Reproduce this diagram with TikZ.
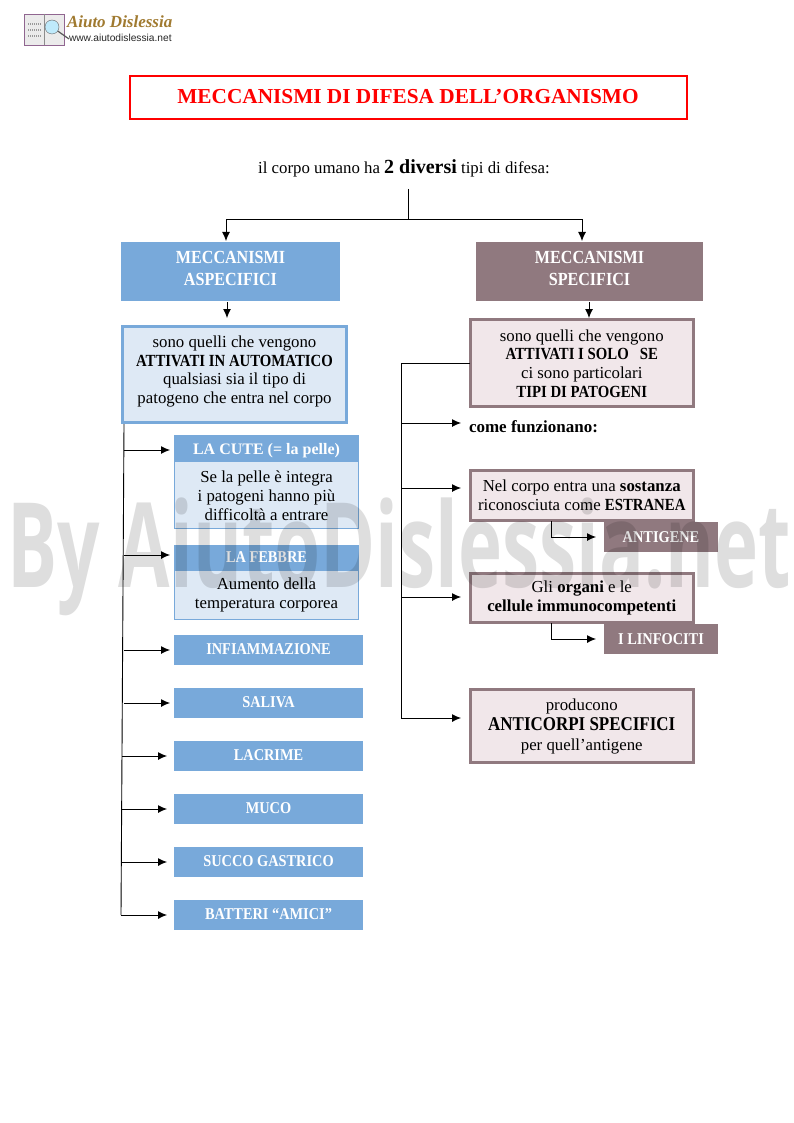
\documentclass[tikz,border=0pt]{standalone}
\usepackage{fontspec}
\setmainfont{Liberation Serif}
\newfontfamily\wmfont{Open Sans}
\newfontfamily\logofont{Liberation Sans}
\newfontfamily\capfam{Liberation Serif}[FakeStretch=.87]
\usetikzlibrary{arrows.meta}
\definecolor{bluebox}{HTML}{78A9DA}
\definecolor{lightblue}{HTML}{DEE9F5}
\definecolor{mauve}{HTML}{90797F}
\definecolor{lightmauve}{HTML}{F1E7EA}
\definecolor{titlered}{HTML}{FF0000}
\definecolor{logogold}{HTML}{A07A30}
\newcommand{\cb}[1]{{\capfam\bfseries\fontsize{17}{18.7}\selectfont #1}}
\tikzset{x=1pt,y=-1pt,
 every node/.style={font=\fontsize{16.8}{18.7}\selectfont,align=center,inner sep=0pt,outer sep=0pt},
 bluehead/.style={fill=bluebox,text=white,font=\capfam\bfseries\fontsize{16.5}{20}\selectfont},
 mauvehead/.style={fill=mauve,text=white,font=\capfam\bfseries\fontsize{16.5}{20}\selectfont},
 bigblue/.style={bluehead,font=\capfam\bfseries\fontsize{18.5}{22}\selectfont},
 bigmauve/.style={mauvehead,font=\capfam\bfseries\fontsize{18.5}{22}\selectfont},
 blueframe/.style={draw=bluebox,fill=lightblue,line width=3pt},
 thinblue/.style={draw=bluebox,fill=lightblue,line width=1pt},
 mauveframe/.style={draw=mauve,fill=lightmauve,line width=3pt},
 conn/.style={draw=black,line width=.9pt},
 arr/.style={conn,-{Latex[length=9pt,width=8pt]}},
}
% [text shift]{style}{x0}{y0}{x1}{y1}{name}{text}
\newcommand{\boxat}[8][0]{%
 \node[#2,minimum width=#5-#3,minimum height=#6-#4] (#7) at ({(#3+#5)/2},{(#4+#6)/2}) {};
 \node[#2,draw=none,fill=none] (#7t) at ({(#3+#5)/2},{(#4+#6)/2+#1}) {#8};}
\begin{document}
\begin{tikzpicture}
\useasboundingbox (0,0) rectangle (793,1123);
% logo
\fill[black!8,draw=black!45!violet!60] (24,14) rectangle (64,45);
\draw[black!45] (44,14) -- (44,45);
\draw[black!40,line width=1.2pt,dash pattern=on 1pt off 1pt] (28,24) -- (41,24) (28,30) -- (41,30) (28,36) -- (41,36);
\node[circle,draw=black!60,fill=cyan!25,minimum size=14pt] (lens) at (52,27) {};
\coordinate (lensend) at (69,39);
\draw[black!65,line width=1.2pt] (lens) -- (lensend);
\node[anchor=west,text=logogold,font=\fontsize{17}{17}\selectfont\bfseries\itshape] (logot) at (67,22) {Aiuto Dislessia};
\node[anchor=west,text=black!85,font=\logofont\fontsize{10.2}{11}\selectfont] (logou) at (69,38) {www.aiutodislessia.net};
% title
\node[draw=titlered,line width=2pt,minimum width=557pt,minimum height=43pt] (title) at (408,98) {};
\node[text=titlered,font=\fontsize{21.3}{26}\selectfont\bfseries] (titlet) at (408,97) {MECCANISMI DI DIFESA DELL’ORGANISMO};
\node (intro) at (404,168) {il corpo umano ha {\fontsize{20}{21}\selectfont\bfseries 2 diversi} tipi di difesa:};
% heads
\boxat[-3.5]{bigblue}{121}{242}{340}{301}{asp}{MECCANISMI\\ASPECIFICI}
\boxat[-3.5]{bigmauve}{476}{242}{703}{301}{spe}{MECCANISMI\\SPECIFICI}
\boxat[-3]{blueframe}{122.5}{326.5}{346.5}{422.5}{aspd}{sono quelli che vengono\\\cb{ATTIVATI IN AUTOMATICO}\\qualsiasi sia il tipo di\\patogeno che entra nel corpo}
\boxat[.5]{mauveframe}{470}{319.5}{693.5}{406.5}{sped}{sono quelli che vengono\\\cb{ATTIVATI I SOLO\ \ \ SE}\\ci sono particolari\\\cb{TIPI DI PATOGENI}}
% top tree
\coordinate (ti) at (408,189);
\coordinate (tj) at (408,219);
\coordinate (tl) at (226,219);
\coordinate (tr) at (582,219);
\draw[conn] (ti) -- (tj);
\draw[arr] (tj) -- (tl) -- (226,241);
\draw[arr] (tj) -- (tr) -- (582,241);
\draw[arr] (227,302) -- (227,318);
\draw[arr] (589,302) -- (589,318);
% left
\boxat[1]{thinblue}{174.5}{461}{358.5}{528.5}{cuted}{Se la pelle è integra\\i patogeni hanno più\\difficoltà a entrare}
\boxat[2.5]{bluehead,font=\bfseries\fontsize{16}{20}\selectfont}{174}{435}{359}{461}{cute}{LA CUTE (= la pelle)}
\boxat{thinblue}{174.5}{570}{358.5}{619.5}{febd}{Aumento della\\temperatura corporea}
\boxat{bluehead}{174}{545}{359}{570}{feb}{LA FEBBRE}
\boxat[-.5]{bluehead}{174}{635}{363}{665}{inf}{INFIAMMAZIONE}
\boxat[-.5]{bluehead}{174}{688}{363}{718}{sal}{SALIVA}
\boxat[-.5]{bluehead}{174}{741}{363}{771}{lac}{LACRIME}
\boxat[-.5]{bluehead}{174}{794}{363}{824}{muc}{MUCO}
\boxat[-.5]{bluehead}{174}{847}{363}{877}{suc}{SUCCO GASTRICO}
\boxat[-.5]{bluehead}{174}{900}{363}{930}{bat}{BATTERI “AMICI”}
\coordinate (lt) at (124,424);
\coordinate (lb) at (121,915);
\draw[conn] (lt) -- (lb);
\draw[arr] (124,450) -- (170,450);
\draw[arr] (124,555) -- (170,555);
\draw[arr] (124,650) -- (170,650);
\draw[arr] (124,703) -- (170,703);
\draw[arr] (122,756) -- (167,756);
\draw[arr] (122,809) -- (167,809);
\draw[arr] (122,862) -- (167,862);
\draw[arr] (lb) -- (167,915);
% right
\boxat{mauvehead}{604}{522}{718}{552}{ant}{ANTIGENE}
\boxat{mauvehead}{604}{624}{718}{654}{lin}{I LINFOCITI}
\boxat{mauveframe}{470}{470}{693.5}{520.5}{nel}{Nel corpo entra una \textbf{sostanza}\\riconosciuta come \cb{ESTRANEA}}
\boxat{mauveframe}{470}{573}{693.5}{622.5}{gli}{Gli \textbf{organi} e le\\\textbf{cellule immunocompetenti}}
\boxat[.5]{mauveframe}{470}{689.5}{693.5}{762.5}{pro}{producono\\[1pt]{\capfam\bfseries\fontsize{19.5}{21}\selectfont ANTICORPI SPECIFICI}\\[2pt]per quell’antigene}
\node[anchor=west,font=\fontsize{17}{21}\selectfont\bfseries] (come) at (469,427) {come funzionano:};
\coordinate (rt) at (401,363);
\coordinate (rb) at (401,718);
\draw[conn] (sped.west |- rt) -- (rt) -- (rb);
\draw[arr] (401,423) -- (461,423);
\draw[arr] (401,488) -- (461,488);
\draw[arr] (401,597) -- (461,597);
\draw[arr] (rb) -- (461,718);
\draw[arr] (551,521) -- (551,537) -- (596,537);
\draw[arr] (551,623) -- (551,639) -- (596,639);
% watermark
\node[anchor=west,text=black,opacity=.13,xscale=.632,font=\wmfont\bfseries\fontsize{118}{118}\selectfont] (wm) at (7,557) {By AiutoDislessia.net};
\end{tikzpicture}
\end{document}
